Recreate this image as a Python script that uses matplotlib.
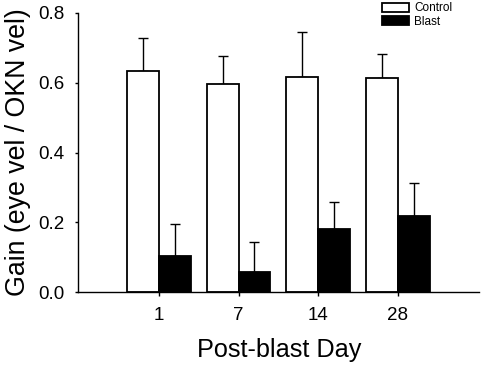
import matplotlib
matplotlib.use("Agg")
import matplotlib.pyplot as plt
import numpy as np
from matplotlib.patches import Patch

plt.rcParams['font.family'] = ['Liberation Sans', 'DejaVu Sans']

days = ["1", "7", "14", "28"]
control_mean = [0.632, 0.596, 0.617, 0.612]
control_err = [0.095, 0.081, 0.127, 0.071]
blast_mean = [0.105, 0.057, 0.180, 0.218]
blast_err = [0.090, 0.086, 0.077, 0.095]

W, H = 482, 369
fig = plt.figure(figsize=(W / 100, H / 100), dpi=100)
left, right, bottom, top = 78.3, 479.3, 292.3, 12.7
ax = fig.add_axes([left / W, 1 - bottom / H, (right - left) / W, (bottom - top) / H])

x = np.arange(len(days))
w = 0.4
ax.bar(x - w / 2, control_mean, w, color='white', edgecolor='black', linewidth=1.3, label='Control', zorder=2)
ax.bar(x + w / 2, blast_mean, w, color='black', edgecolor='black', linewidth=1.3, label='Blast', zorder=2)
ax.errorbar(x - w / 2, control_mean, yerr=[np.zeros(4), control_err], fmt='none', ecolor='black',
            elinewidth=1.0, capsize=3.6, capthick=1.0, zorder=1)
ax.errorbar(x + w / 2, blast_mean, yerr=[np.zeros(4), blast_err], fmt='none', ecolor='black',
            elinewidth=1.0, capsize=3.6, capthick=1.0, zorder=1)

ax.set_xlim(-1.01, 4.02)
ax.set_ylim(0, 0.8)
ax.set_xticks(x)
ax.set_xticklabels(days)
ax.set_yticks([0.0, 0.2, 0.4, 0.6, 0.8])
ax.set_yticklabels(["0.0", "0.2", "0.4", "0.6", "0.8"])
ax.spines['top'].set_visible(False)
ax.spines['right'].set_visible(False)
for s in ('left', 'bottom'):
    ax.spines[s].set_linewidth(1.0)
ax.tick_params(axis='y', direction='out', length=2.5, width=1.0, labelsize=13.5, pad=7.5)
ax.tick_params(axis='x', direction='out', length=3, width=1.0, labelsize=13.5, pad=7.5)

ax.set_xlabel("Post-blast Day", fontsize=18.2, labelpad=10)
ax.set_ylabel("Gain (eye vel / OKN vel)", fontsize=19.3, labelpad=5)

handles = [Patch(facecolor='white', edgecolor='black', linewidth=1.3),
           Patch(facecolor='black', edgecolor='black', linewidth=1.3)]
fig.legend(handles, ['Control', 'Blast'], loc='upper left', bbox_to_anchor=(382 / W, 0.994),
           frameon=False, fontsize=8.5, handlelength=2.3, handleheight=0.78,
           labelspacing=0.12, handletextpad=0.45, borderaxespad=0, borderpad=0)

fig.savefig("out.png", dpi=100)
